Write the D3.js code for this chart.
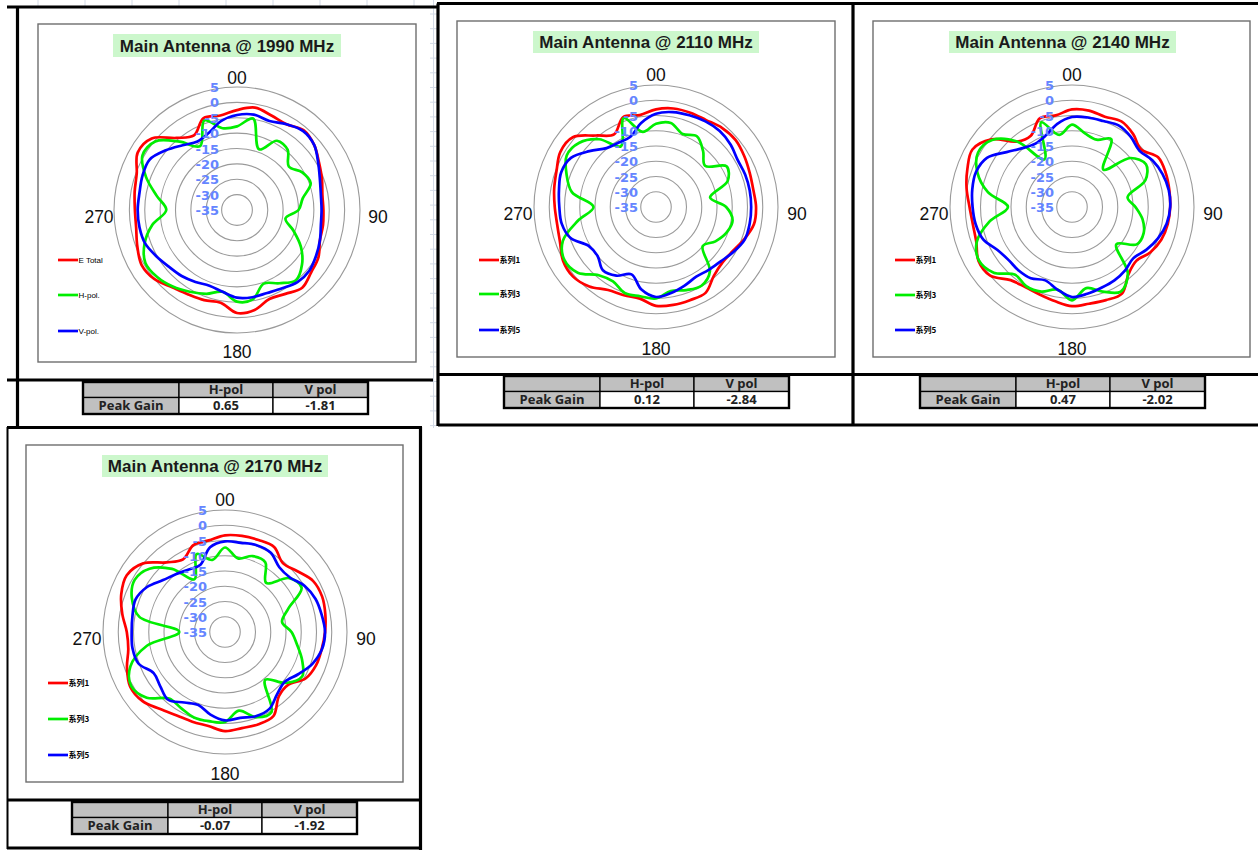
<!DOCTYPE html>
<html>
<head>
<meta charset="utf-8">
<script src="https://cdn.jsdelivr.net/npm/d3@7"></script>
<style>
body { margin: 0; background: #fff; }
svg { display: block; }
</style>
</head>
<body>
<svg id="page" width="1258" height="850"></svg>
<script>
// angles of the radar categories (deg, clockwise from top)
const angles = [0, 10, 20, 30, 40, 50, 60, 70, 80, 90, 100, 110, 120, 130, 140, 150, 160, 170,
    180, 190, 200, 210, 220, 230, 240, 250, 260, 270, 280, 290, 300, 310, 320, 330, 340, 350]

const freqs = [1990, 2110, 2140, 2170]
const ringTicks = [5, 0, -5, -10, -15, -20, -25, -30, -35]
const dirLabels = ["00", "90", "180", "270"]
const namesEn = ["E Total", "H-pol.", "V-pol."]
const namesCn = ["系列1", "系列3", "系列5"]
const tableHead = ["", "H-pol", "V pol"]
const rowLabel = "Peak Gain"
const hPeak = [0.65, 0.12, 0.47, -0.07]
const vPeak = [-1.81, -2.84, -2.02, -1.92]

const eTotal1990 = [-2.5, -1.2, -2.3, -2.8, -1.2, -2.2, -4.2, -5.6, -6.8, -6.9, -6.6, -6.3, -4.4, -3.5, -2, -3.5, -4.2, -2,
    -1.5, -4.4, -3.8, -3.3, -2.2, 0, 0.8, -0.5, -1.7, -1.8, -1.2, -0.3, 2.3, 1.2, -4.4, -7, -3.2, -3.8]
const hPol1990 = [-7.8, -4.8, -14, -9, -9.4, -13, -10.5, -9.5, -13.3, -15, -19, -15.5, -11, -7.4, -5.2, -7.5, -9.5, -5.5,
    -5.2, -8, -6, -4.3, -2.5, -1.1, -0.6, -3, -7, -12, -8.5, -3.5, 0.5, -0.3, -6, -11, -4, -8]
const vPol1990 = [-4.1, -3.5, -4.2, -2.8, -1.5, -2.2, -4.5, -6.3, -7.3, -7.5, -7.3, -6.3, -5.3, -4.3, -4.4, -5.6, -6.3, -6.2,
    -6.5, -8, -8.8, -8, -7, -6.2, -4.8, -3.2, -2.8, -2.7, -2.8, -2.3, -2.2, -4.8, -7.5, -9.3, -8.3, -5.6]

const eTotal2110 = [-3, -2.2, -2.1, -2.1, -1.2, -0.9, -1.6, -2.3, -2.6, -2.2, -2.4, -4.2, -6, -6.6, -5.5, -2.5, -2.5, -2.4,
    -2.6, -4.5, -4.2, -3.6, -1, 0.5, 0.2, -1.5, -2.1, -1.8, -1.1, -0.3, 1.2, 0.6, -4.4, -7.5, -3.6, -4.4]
const hPol2110 = [-7.7, -7, -9.5, -8.2, -11, -14, -8.3, -10, -17, -12, -9.5, -10.4, -12.5, -15, -7.5, -5.2, -6, -7,
    -5, -5.3, -5, -6.8, -5.8, -1.5, -0.3, -2.5, -9, -14.5, -7, -3.8, -1.2, -2.2, -6, -12, -4, -10]
const vPol2110 = [-4.4, -3.4, -3, -2.6, -2.5, -3.1, -4.1, -3.9, -3.8, -3.8, -3.8, -4, -5.6, -7.3, -8.1, -8.6, -7.6, -6.4,
    -5.5, -7.5, -11.5, -9, -7.9, -10, -9.5, -5.2, -3.6, -3.3, -2.7, -1.9, -2.8, -6.5, -9.8, -10.6, -10.5, -7]

const eTotal2140 = [-3, -2.9, -3.5, -2.6, -3.8, -5.5, -2.4, -2.3, -2.6, -2.8, -3.1, -3.8, -5.3, -7.5, -6.2, -2.2, -2.5, -2.8,
    -2.5, -3.6, -4.4, -4.6, -3.7, 0, 0.4, -1.6, -2, -1.4, 0.1, 1.5, 2.7, -0.5, -7, -8, -4.1, -4.5]
const hPol2140 = [-8, -10.5, -11.5, -9.3, -19, -10, -7, -9.4, -16.5, -14.2, -11.5, -10, -10.5, -16, -6.5, -3, -5.5, -8,
    -4.4, -7.5, -5.5, -5, -6, -1.5, 0.2, -1.8, -7.5, -14, -7, -2, 0.6, -0.8, -7, -17, -5.5, -11]
const vPol2140 = [-5.5, -5.2, -5, -4.2, -5, -6.2, -4.5, -3.4, -2.8, -2.8, -3.5, -5, -6.9, -8.8, -7.9, -7.2, -6.8, -6.1,
    -5.5, -7.5, -9.4, -8, -7.8, -7.9, -6.8, -4, -2.9, -2.4, -1.8, -1.5, -2.8, -7, -9.8, -11, -10, -7.3]

const eTotal2170 = [-3.3, -3, -2.9, -2.8, -5.5, -4, -1.6, -1.1, -1.6, -2.2, -2.8, -3.2, -4.5, -8, -7.5, -3.2, -2.8, -3,
    -2.5, -3.7, -3.7, -3.4, -2, 0.3, 0.9, -0.8, -2.8, -2.8, -0.8, 1.2, 2.2, 0, -5.2, -7.5, -4.7, -4.5]
const hPol2170 = [-7.3, -10.5, -8.5, -8.6, -14, -7.5, -6, -13, -16, -13.2, -11, -8.1, -5.8, -9, -14.5, -4.6, -5.3, -8.8,
    -5.5, -5.3, -5.2, -6.2, -6.5, -1.5, 0.5, -2, -9, -20, -6.5, -2.5, -0.8, -2.7, -8, -15, -7.8, -11]
const vPol2170 = [-5.3, -5.3, -4.7, -5, -7.3, -7.2, -4.8, -3.4, -2.8, -2.2, -2.7, -4.5, -7.3, -9.5, -8.4, -5.9, -5.6, -6.4,
    -6, -7.5, -9.5, -8.3, -6, -7.3, -8, -4.8, -4.2, -4.4, -4.2, -3.8, -5.5, -8.5, -10.2, -11.3, -11.5, -6.8]

const seriesSets = [
    [eTotal1990, hPol1990, vPol1990],
    [eTotal2110, hPol2110, vPol2110],
    [eTotal2140, hPol2140, vPol2140],
    [eTotal2170, hPol2170, vPol2170]
]
const seriesColors = ["#ff0000", "#00ee00", "#0000ff"]

// layout of the four sheet blocks
const charts = [
    {cx: 237, cy: 210, R: 123, box: [38, 24, 378, 338], title: [113, 34, 228, 23], legX: 58, legY: [260, 295, 331], names: namesEn, table: [83, 382]},
    {cx: 656, cy: 207, R: 122, box: [457, 21, 378, 336], title: [533, 31, 226, 22], legX: 479, legY: [260, 294, 330], names: namesCn, table: [504, 376]},
    {cx: 1072, cy: 207, R: 122, box: [873, 21, 377, 336], title: [949, 31, 227, 22], legX: 895, legY: [260, 295, 330], names: namesCn, table: [920, 376]},
    {cx: 225, cy: 632, R: 122, box: [26, 445, 377, 337], title: [102, 455, 226, 22], legX: 48, legY: [683, 719, 755], names: namesCn, table: [72, 802]}
]

const svg = d3.select("#page")

// faint spreadsheet cell lines peeking between blocks
const sheet = svg.append("g").attr("id", "sheetGrid")
    .style("stroke", "#d3dae6").style("stroke-width", 1)
for (let x = 38; x < 430; x += 47) {
    sheet.append("line").attr("x1", x).attr("y1", 0).attr("x2", x).attr("y2", 6)
}
sheet.append("line").attr("x1", 433.5).attr("y1", 0).attr("x2", 433.5).attr("y2", 428)
for (let y = 14; y < 428; y += 14.7) {
    sheet.append("line").attr("x1", 430).attr("y1", y).attr("x2", 437).attr("y2", y)
}

// thick black block borders
const frameLines = [
    [7, 7, 437, 7], [17.5, 7, 17.5, 428], [7, 380, 433, 380], [7, 427.5, 422, 427.5],
    [437, 3.5, 1258, 3.5], [438, 3.5, 438, 426], [853, 3.5, 853, 426], [438, 374.5, 1258, 374.5], [438, 425, 1258, 425],
    [420.5, 427, 420.5, 850], [7, 800, 421, 800], [7, 848, 421, 848]
]
svg.append("g").attr("id", "frames")
    .selectAll("line")
    .data(frameLines)
    .enter()
    .append("line")
    .attr("x1", d => d[0]).attr("y1", d => d[1])
    .attr("x2", d => d[2]).attr("y2", d => d[3])
    .style("stroke", "#000")
    .style("stroke-width", 3.2)
svg.append("line")
    .attr("x1", 7.5).attr("y1", 427).attr("x2", 7.5).attr("y2", 849)
    .style("stroke", "#000").style("stroke-width", 2)

charts.forEach((c, i) => {
    const g = svg.append("g").attr("class", "chartG")

    g.append("rect")
        .attr("x", c.box[0]).attr("y", c.box[1])
        .attr("width", c.box[2]).attr("height", c.box[3])
        .style("fill", "#fff")
        .style("stroke", "#6e6e6e")
        .style("stroke-width", 1.4)

    // title
    g.append("rect")
        .attr("x", c.title[0]).attr("y", c.title[1])
        .attr("width", c.title[2]).attr("height", c.title[3])
        .style("fill", "#ccf7cc")
    g.append("text")
        .attr("x", c.title[0] + c.title[2] / 2)
        .attr("y", c.title[1] + c.title[3] / 2 + 6)
        .style("text-anchor", "middle")
        .style("font-family", "Liberation Sans, Arial, sans-serif")
        .style("font-weight", "bold")
        .style("font-size", "17px")
        .style("fill", "#1a1a1a")
        .text(`Main Antenna @ ${freqs[i]} MHz`)

    const rScale = d3.scaleLinear().domain([-35, 5]).range([0, c.R])
    const plot = g.append("g").attr("transform", `translate(${c.cx},${c.cy})`)

    // rings
    plot.selectAll("circle")
        .data(ringTicks.filter(v => v > -35))
        .enter()
        .append("circle")
        .attr("r", d => rScale(d))
        .style("fill", "none")
        .style("stroke", "#9a9a9a")
        .style("stroke-width", 1.1)

    // series
    const line = d3.lineRadial()
        .angle((d, k) => angles[k] * Math.PI / 180)
        .radius(d => rScale(d))
        .curve(d3.curveCatmullRomClosed.alpha(0.5))

    seriesSets[i].forEach((vals, s) => {
        plot.append("path")
            .attr("d", line(vals))
            .style("fill", "none")
            .style("stroke", seriesColors[s])
            .style("stroke-width", 2.7)
            .style("stroke-linejoin", "round")
    })

    // radial tick labels
    plot.selectAll("text.rTick")
        .data(ringTicks)
        .enter()
        .append("text")
        .attr("class", "rTick")
        .attr("x", -18)
        .attr("y", d => -rScale(d) + 5)
        .style("text-anchor", "end")
        .style("font-family", "DejaVu Sans, Verdana, sans-serif")
        .style("font-weight", "bold")
        .style("font-size", "13px")
        .style("fill", "#6585ff")
        .text(d => d)

    // direction labels
    const dirPos = [[0, -132 + 6], [141, 7 + 6], [0, 142 + 6], [-138, 7 + 6]]
    plot.selectAll("text.dir")
        .data(dirLabels)
        .enter()
        .append("text")
        .attr("class", "dir")
        .attr("x", (d, k) => dirPos[k][0])
        .attr("y", (d, k) => dirPos[k][1])
        .style("text-anchor", "middle")
        .style("font-family", "Liberation Sans, Arial, sans-serif")
        .style("font-size", "17.5px")
        .style("fill", "#111")
        .text(d => d)

    // legend
    c.names.forEach((name, s) => {
        g.append("line")
            .attr("x1", c.legX).attr("y1", c.legY[s])
            .attr("x2", c.legX + 20).attr("y2", c.legY[s])
            .style("stroke", seriesColors[s])
            .style("stroke-width", 2.7)
        g.append("text")
            .attr("x", c.legX + 20.5)
            .attr("y", c.legY[s] + 3)
            .style("font-family", i == 0 ? "Liberation Sans, Arial, sans-serif" : "Noto Sans CJK SC, sans-serif")
            .style("font-weight", i == 0 ? "normal" : "bold")
            .style("font-size", "8px")
            .style("fill", "#000")
            .text(name)
    })

    // peak gain table
    const colW = [96, 94, 95]
    const rowH = [15.5, 16.5]
    const tx = c.table[0], ty = c.table[1]
    const cells = [
        [tableHead[0], tableHead[1], tableHead[2]],
        [rowLabel, hPeak[i].toFixed(2), vPeak[i].toFixed(2)]
    ]
    const tg = g.append("g")
    cells.forEach((row, r) => {
        let x = tx
        row.forEach((txt, k) => {
            const y = ty + (r == 0 ? 0 : rowH[0])
            tg.append("rect")
                .attr("x", x).attr("y", y)
                .attr("width", colW[k]).attr("height", rowH[r])
                .style("fill", (r == 0 || k == 0) ? "#c0c0c0" : "#fff")
                .style("stroke", "#000")
                .style("stroke-width", 1.3)
            tg.append("text")
                .attr("x", x + colW[k] / 2)
                .attr("y", y + rowH[r] / 2 + 4.6)
                .style("text-anchor", "middle")
                .style("font-family", "Open Sans, sans-serif")
                .style("font-weight", "bold")
                .style("font-size", "13px")
                .style("fill", "#222")
                .text(txt)
            x += colW[k]
        })
    })
    tg.append("rect")
        .attr("x", tx).attr("y", ty)
        .attr("width", d3.sum(colW)).attr("height", d3.sum(rowH))
        .style("fill", "none")
        .style("stroke", "#000")
        .style("stroke-width", 2.4)
})
</script>
</body>
</html>
